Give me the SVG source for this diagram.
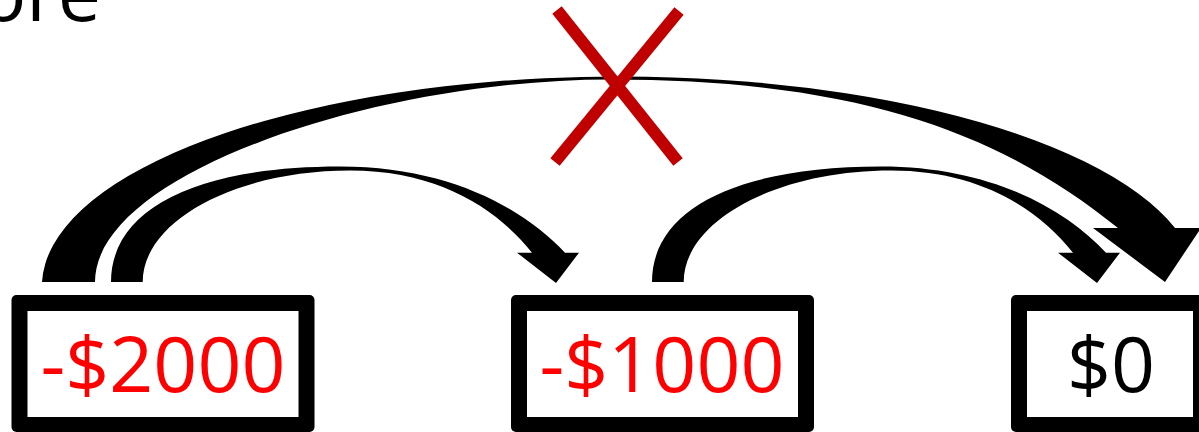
<svg xmlns="http://www.w3.org/2000/svg" width="1199" height="432" viewBox="0 0 1199 432">
<style>
.txt{font-family:"Open Sans","Noto Sans","Liberation Sans",sans-serif;font-size:77px}
.val{text-anchor:middle}
.neg{fill:#FF0000}
.pos{fill:#000000}
.frame{fill:#000000}
.inner{fill:#FFFFFF}
.arrow{fill:#000000}
.xmark{stroke:#C00000;stroke-width:12;stroke-linecap:butt;fill:none}
</style>
<rect x="0" y="0" width="1199" height="432" fill="#FFFFFF"/>
<g id="title">
<text class="txt" x="101" y="21" text-anchor="end" fill="#000000">Before</text>
</g>
<g id="connectors">
<path id="arrow-2000-to-0" class="arrow" d="M42,282 A578,210 0 0,1 1175,228 L1201,228 L1165,282 L1093,228 L1118,228 C1001,133.5 860,79.5 610,79.5 C380,79.5 95,172 95,282 Z"/>
<path id="arrow-2000-to-1000" class="arrow" d="M111,282 C111,207 200,166.5 340,166.5 C450,166.5 524,209 565,252.7 L579,252.7 L556,283 L517,252.7 L532,252.7 C498,210 440,170.5 350,170.5 C236,170.5 142.7,220.5 142.7,282 Z"/>
<path id="arrow-1000-to-0" class="arrow" transform="translate(541,0)" d="M111,282 C111,207 200,166.5 340,166.5 C450,166.5 524,209 565,252.7 L579,252.7 L556,283 L517,252.7 L532,252.7 C498,210 440,170.5 350,170.5 C236,170.5 142.7,220.5 142.7,282 Z"/>
</g>
<g id="cross">
<line class="xmark" x1="557" y1="10" x2="678" y2="162"/>
<line class="xmark" x1="679" y1="11" x2="555" y2="162"/>
</g>
<g id="node-2000">
<rect class="frame" x="11.5" y="295" width="303" height="137" rx="5"/>
<rect class="inner" x="27.5" y="311" width="271" height="106"/>
<text class="txt val neg" x="163" y="392">-$2000</text>
</g>
<g id="node-1000">
<rect class="frame" x="511" y="295" width="303" height="137" rx="5"/>
<rect class="inner" x="527" y="311" width="271" height="106"/>
<text class="txt val neg" x="662" y="392">-$1000</text>
</g>
<g id="node-0">
<rect class="frame" x="1011" y="295" width="198" height="137" rx="5"/>
<rect class="inner" x="1027" y="311" width="166" height="106"/>
<text class="txt val pos" x="1111" y="392">$0</text>
</g>
</svg>
